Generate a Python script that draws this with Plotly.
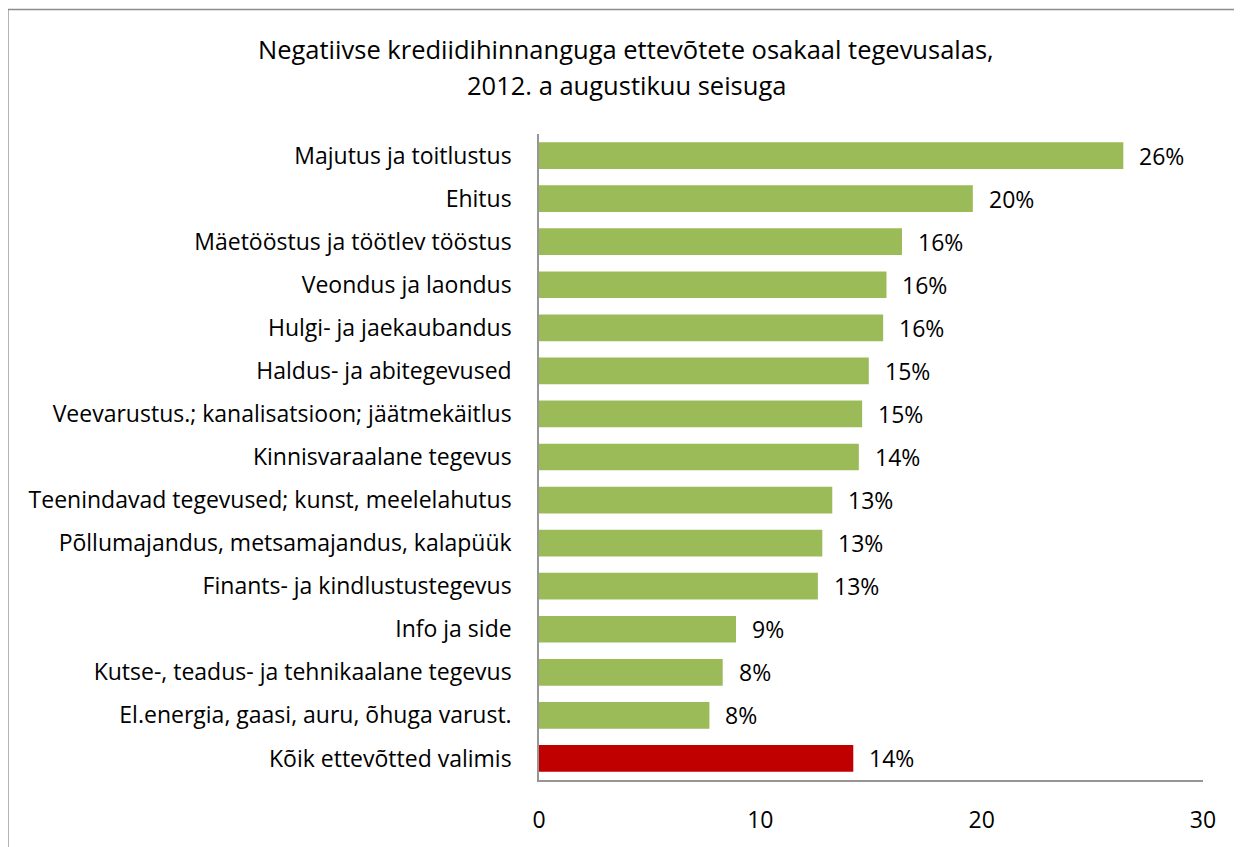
import plotly.graph_objects as go

# Data
categories = [
    "Majutus ja toitlustus",
    "Ehitus",
    "Mäetööstus ja töötlev tööstus",
    "Veondus ja laondus",
    "Hulgi- ja jaekaubandus",
    "Haldus- ja abitegevused",
    "Veevarustus.; kanalisatsioon; jäätmekäitlus",
    "Kinnisvaraalane tegevus",
    "Teenindavad tegevused; kunst, meelelahutus",
    "Põllumajandus, metsamajandus, kalapüük",
    "Finants- ja kindlustustegevus",
    "Info ja side",
    "Kutse-, teadus- ja tehnikaalane tegevus",
    "El.energia, gaasi, auru, õhuga varust.",
    "Kõik ettevõtted valimis",
]
values = [26.4, 19.6, 16.4, 15.7, 15.55, 14.9, 14.6, 14.45, 13.25, 12.8, 12.6, 8.9, 8.3, 7.7, 14.2]
value_labels = ["26%", "20%", "16%", "16%", "16%", "15%", "15%", "14%",
                "13%", "13%", "13%", "9%", "8%", "8%", "14%"]
x_ticks = [0, 10, 20, 30]
title_lines = ["Negatiivse krediidihinnanguga ettevõtete osakaal tegevusalas,",
               "2012. a augustikuu seisuga"]

GREEN = "#9BBB59"
RED = "#C00000"
FONT = "Open Sans"

colors = [GREEN] * (len(categories) - 1) + [RED]

# the page body has an 8px margin, so the figure is a bit smaller than the window
W, H = 1234, 839
L, R, T, B = 530.5, 39, 126, 59
pw, ph = W - L - R, H - T - B

def px_x(p):
    return (p - L) / pw

def px_y(p):
    return (H - B - p) / ph

fig = go.Figure()
fig.add_trace(go.Bar(
    x=values,
    y=categories,
    orientation="h",
    marker=dict(color=colors, line=dict(width=0)),
    hoverinfo="skip",
))

# value labels to the right of the bars
for cat, val, lab in zip(categories, values, value_labels):
    fig.add_annotation(x=val, y=cat, text=lab, showarrow=False,
                       xanchor="left", xshift=14,
                       font=dict(family=FONT, size=23, color="black"))

# two-line chart title
for line, ypix in zip(title_lines, [40, 76]):
    fig.add_annotation(xref="paper", yref="paper", x=px_x(618), y=px_y(ypix),
                       text=line, showarrow=False, xanchor="center", yanchor="middle",
                       font=dict(family=FONT, size=25.5, color="black"))

# outer chart border
fig.add_shape(type="rect", xref="paper", yref="paper",
              x0=px_x(-1), x1=px_x(1260), y0=px_y(0), y1=px_y(870),
              line=dict(color="#8C8C8C", width=1.5), fillcolor="rgba(0,0,0,0)",
              layer="below")

fig.update_layout(
    width=W, height=H,
    margin=dict(l=L, r=R, t=T, b=B),
    plot_bgcolor="white", paper_bgcolor="white",
    showlegend=False,
    bargap=0.38,
    font=dict(family=FONT, size=23, color="black"),
)

fig.update_xaxes(
    range=[0, 30], tickvals=x_ticks, showgrid=False, zeroline=False,
    showline=True, linecolor="#969696", linewidth=1.5,
    ticks="", ticklabelstandoff=19,
    tickfont=dict(family=FONT, size=23),
)
fig.update_yaxes(
    autorange="reversed", showgrid=False, zeroline=False,
    showline=True, linecolor="#969696", linewidth=1.5,
    ticks="", ticklabelstandoff=21,
    tickfont=dict(family=FONT, size=23),
)

fig.write_html("out.html")
